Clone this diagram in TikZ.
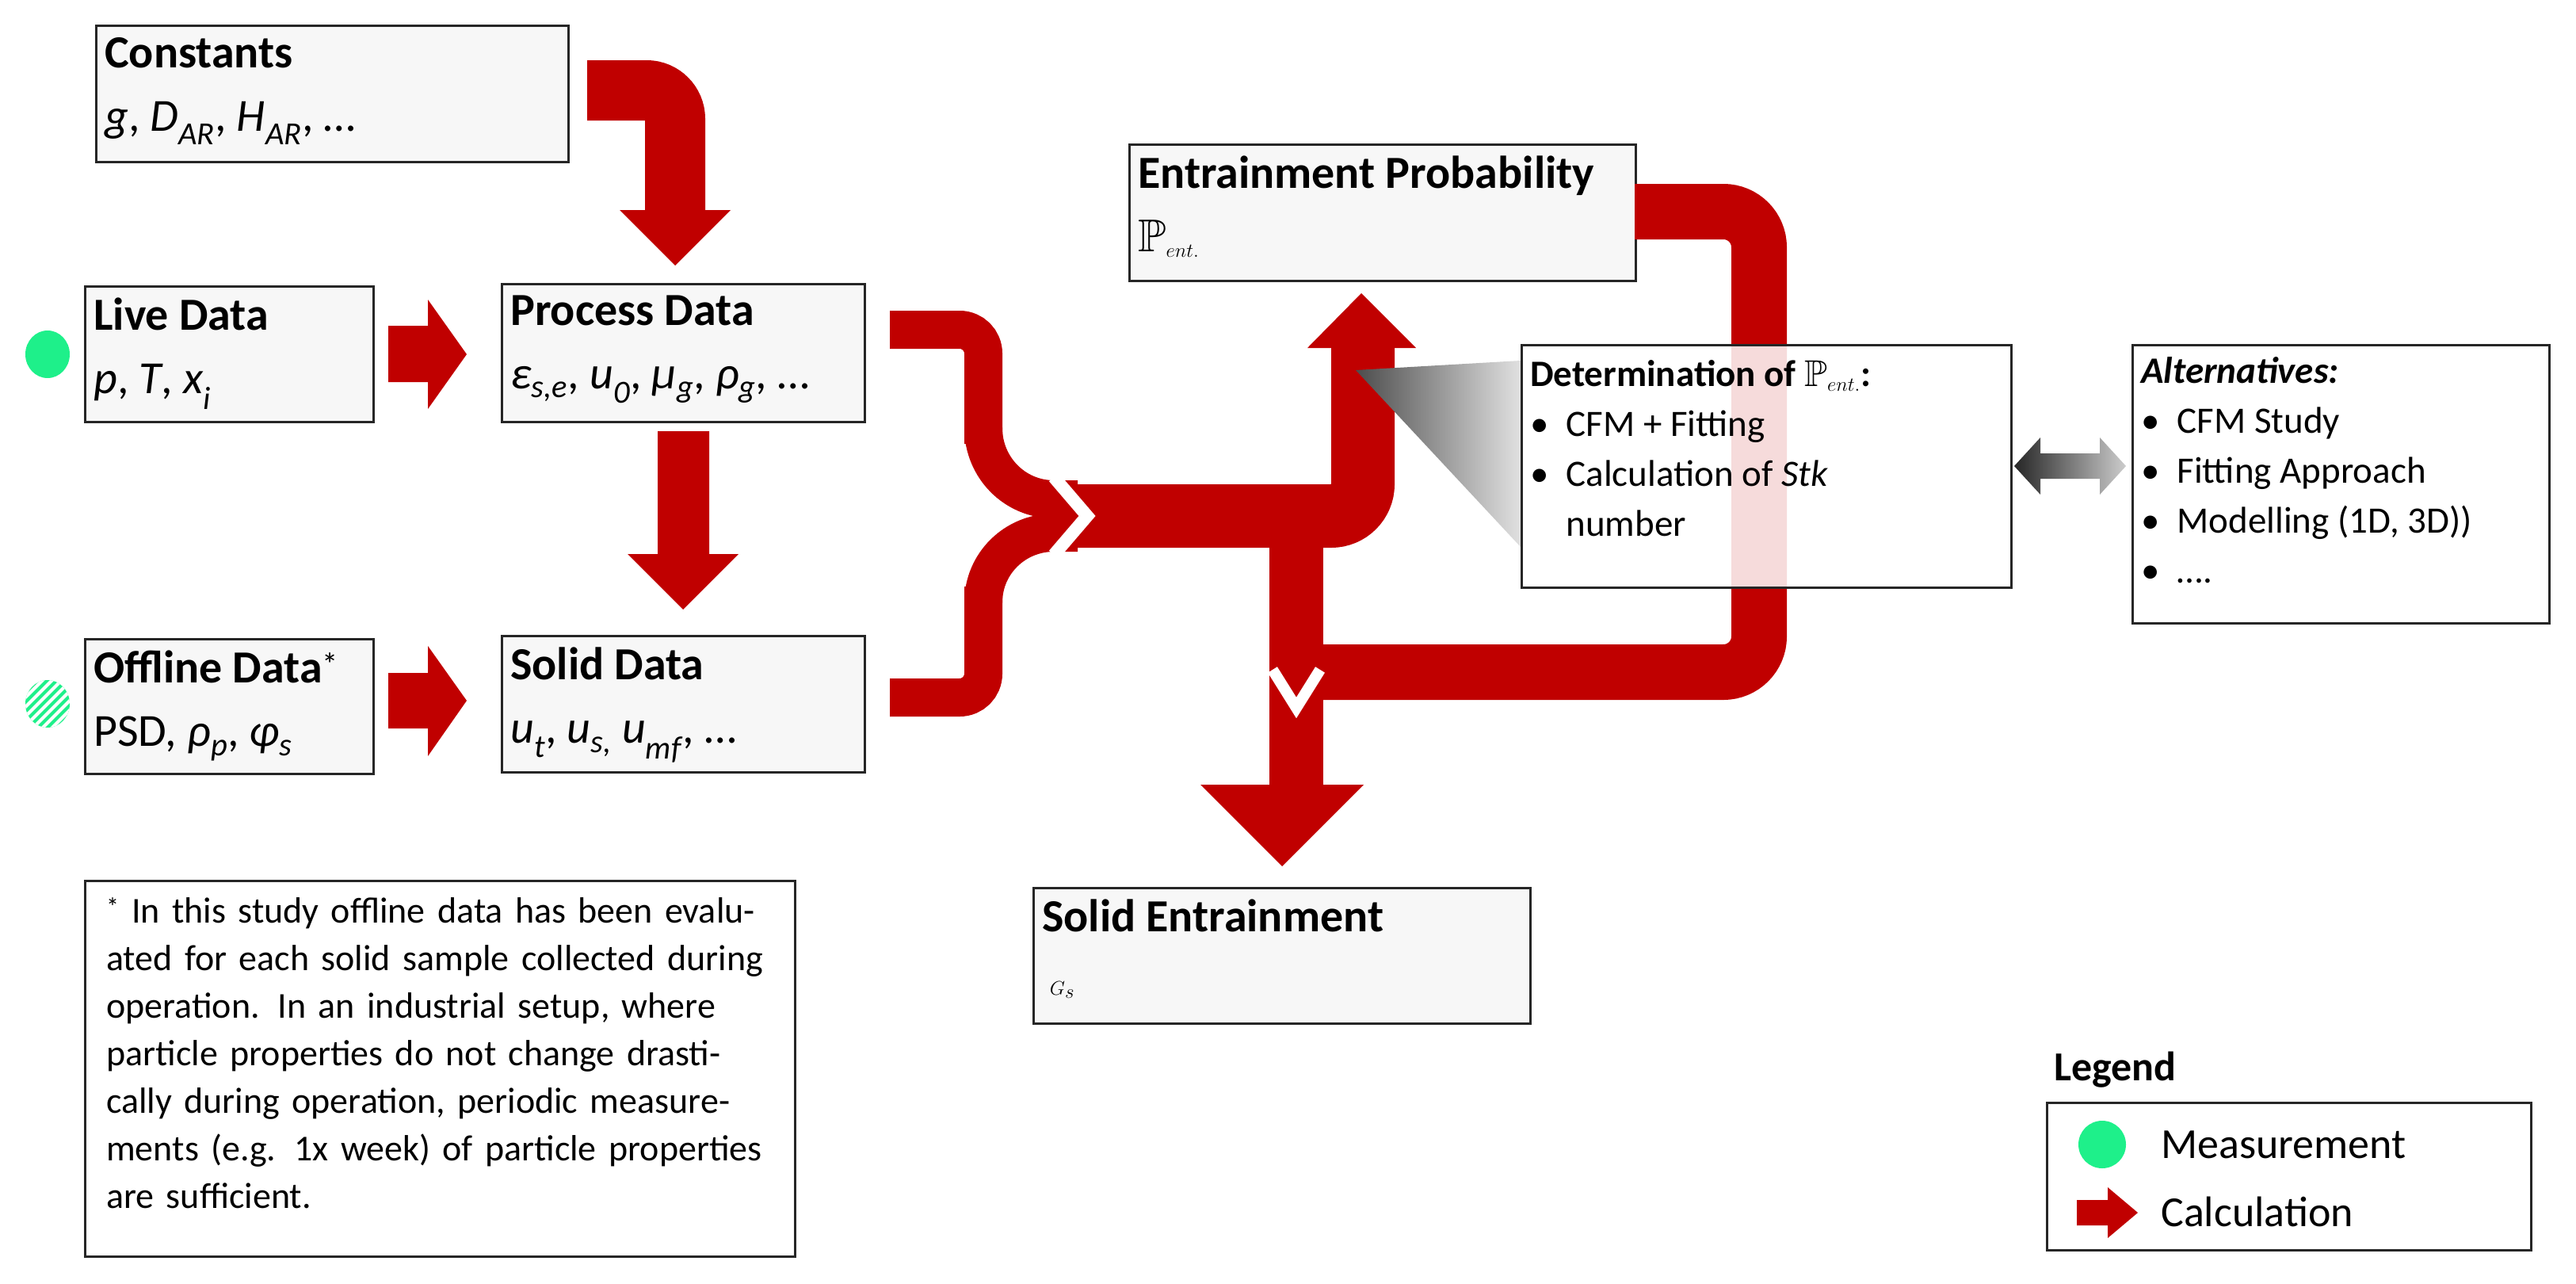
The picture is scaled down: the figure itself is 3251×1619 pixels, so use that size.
\documentclass[tikz,border=0pt]{standalone}
\usepackage{fontspec}
\usepackage{amssymb}
\setmainfont{Carlito}
\definecolor{ar}{HTML}{C00000}
\definecolor{gr}{HTML}{1EF08A}
\begin{document}
\begin{tikzpicture}[x=1pt,y=-1pt,
  box/.style={draw=black!85,line width=3pt,fill=black!3,anchor=north west,inner sep=0pt},
  txt/.style={anchor=north west,align=left,inner sep=0pt,font=\fontsize{58}{80}\selectfont},
  sm/.style={anchor=north west,align=left,inner sep=0pt,font=\fontsize{47}{63}\selectfont},
  arl/.style={draw=ar,line width=#1}]
\useasboundingbox (0,0) rectangle (3251,1619);
% boxes
\node[box,minimum width=596,minimum height=172] (const) at (120,31) {};
\node[txt] (constT) at ([xshift=12,yshift=-16]const.north west) {\textbf{Constants}\\ \textit{g}, \textit{D}\textsubscript{\textit{AR}}, \textit{H}\textsubscript{\textit{AR}}, …};
\node[box,minimum width=364,minimum height=171] (live) at (106,360) {};
\node[txt] (liveT) at ([xshift=12,yshift=-16]live.north west) {\textbf{Live Data}\\ \textit{p}, \textit{T}, \textit{x}\textsubscript{\textit{i}}};
\node[box,minimum width=458,minimum height=174] (proc) at (632,357) {};
\node[txt] (procT) at ([xshift=12,yshift=-16]proc.north west) {\textbf{Process Data}\\ \textit{ε}\textsubscript{\textit{s,e}}, \textit{u}\textsubscript{\textit{0}}, \textit{μ}\textsubscript{\textit{g}}, \textit{ρ}\textsubscript{\textit{g}}, …};
\node[box,minimum width=364,minimum height=170] (off) at (106,805) {};
\node[txt] (offT) at ([xshift=12,yshift=-16]off.north west) {\textbf{Offline Data}\textsuperscript{*}\\ PSD, \textit{ρ}\textsubscript{\textit{p}}, \textit{φ}\textsubscript{\textit{s}}};
\node[box,minimum width=458,minimum height=172] (solid) at (632,801) {};
\node[txt] (solidT) at ([xshift=12,yshift=-16]solid.north west) {\textbf{Solid Data}\\ \textit{u}\textsubscript{\textit{t}}, \textit{u}\textsubscript{\textit{s,}} \textit{u}\textsubscript{\textit{mf}}, …};
\node[box,minimum width=639,minimum height=172] (ent) at (1424,181) {};
\node[txt] (entT) at ([xshift=12,yshift=-16]ent.north west) {\textbf{Entrainment Probability}\\ $\mathbb{P}_{ent.}$};
\node[box,minimum width=627,minimum height=171] (se) at (1303,1119) {};
\node[txt] (seT) at ([xshift=12,yshift=-16]se.north west) {\textbf{Solid Entrainment}\\ \,$G_s$};
\node[box,fill=white,minimum width=896,minimum height=474] (foot) at (106,1110) {};
\node[txt,text width=840,font=\fontsize{46}{60}\selectfont] (footT) at ([xshift=28,yshift=-22]foot.north west) {\textsuperscript{*} In this study offline data has been evaluated for each solid sample collected during operation. In an industrial setup, where particle properties do not change drastically during operation, periodic measurements (e.g. 1x week) of particle properties are sufficient.};
\node[box,fill=white,minimum width=526,minimum height=351] (alt) at (2690,434) {};
\node[sm] (altT) at ([xshift=12,yshift=-16]alt.north west) {\textbf{\textit{Alternatives:}}\\ •\hspace{22pt}CFM Study\\ •\hspace{22pt}Fitting Approach\\ •\hspace{22pt}Modelling (1D, 3D))\\ •\hspace{22pt}….};
% measurement dots
\fill[gr] (60,447) ellipse (28 and 30);
\begin{scope}
\clip (60,888) ellipse (28 and 30);
\fill[gr] (0,850) rectangle (100,930);
\foreach \i in {-60,-48,...,60} \draw[white,line width=4] (60+\i-40,928) -- (60+\i+40,848);
\end{scope}
% straight arrows
\draw[arl=76,rounded corners=36] (741,114) -- (852,114) -- (852,270);
\fill[ar] (782,265) -- (922,265) -- (852,335) -- cycle;
\fill[ar] (490,411) -- (540,411) -- (540,378) -- (589,447) -- (540,516) -- (540,482) -- (490,482) -- cycle;
\fill[ar] (490,849) -- (540,849) -- (540,815) -- (589,884) -- (540,954) -- (540,919) -- (490,919) -- cycle;
\fill[ar] (830,544) -- (895,544) -- (895,699) -- (932,699) -- (862,769) -- (792,699) -- (830,699) -- cycle;
% merging arrows
\draw[arl=48,rounded corners=30] (1123,416) -- (1241,416) -- (1241,560);
\draw[arl=48] (1241,540) to[out=-90,in=180] (1330,630) -- (1360,630);
\draw[arl=48,rounded corners=30] (1123,880) -- (1241,880) -- (1241,740);
\draw[arl=48] (1241,760) to[out=90,in=180] (1330,672) -- (1360,672);
\draw[arl=80,rounded corners=40] (1340,651) -- (1720,651) -- (1720,435);
\fill[ar] (1650,439) -- (1787,439) -- (1718,370) -- cycle;
\draw[white,line width=16,miter limit=10] (1330,602) -- (1372,651) -- (1330,700);
% down arrow and feedback
\draw[arl=68] (1636,660) -- (1636,995);
\fill[ar] (1515,990) -- (1721,990) -- (1618,1093) -- cycle;
\draw[arl=70,rounded corners=45] (2063,267) -- (2220,267) -- (2220,848) -- (1650,848);
\draw[white,line width=14] (1606,845) -- (1636,893) -- (1666,845);
% callout and determination box
\shade[left color=black!70,right color=black!12] (1711,467) -- (1919,455) -- (1919,690) -- cycle;
\node[box,fill=white,fill opacity=0.86,minimum width=618,minimum height=306] (det) at (1919,434) {};
\node[sm] (detT) at ([xshift=12,yshift=-20]det.north west) {\textbf{Determination of $\mathbb{P}_{ent.}$:}\\ •\hspace{22pt}CFM + Fitting\\ •\hspace{22pt}Calculation of \textit{Stk}\\ \phantom{•}\hspace{22pt}number};
% double arrow
\shade[left color=black!85,right color=black!20] (2542,588) -- (2575,552) -- (2575,572) -- (2650,572) -- (2650,552) -- (2683,588) -- (2650,624) -- (2650,604) -- (2575,604) -- (2575,624) -- cycle;
% legend
\node[anchor=south west,inner sep=0pt,font=\fontsize{52}{60}\selectfont\bfseries] (lgt) at (2592,1372) {Legend};
\node[box,fill=white,minimum width=611,minimum height=186] (lg) at (2582,1390) {};
\fill[gr] (2653,1444) circle (30);
\node[anchor=west,inner sep=0pt,font=\fontsize{54}{60}\selectfont] (lm) at (2727,1444) {Measurement};
\fill[ar] (2621,1514) -- (2660,1514) -- (2660,1498) -- (2698,1530) -- (2660,1562) -- (2660,1546) -- (2621,1546) -- cycle;
\node[anchor=west,inner sep=0pt,font=\fontsize{54}{60}\selectfont] (lc) at (2727,1529) {Calculation};
\end{tikzpicture}
\end{document}
